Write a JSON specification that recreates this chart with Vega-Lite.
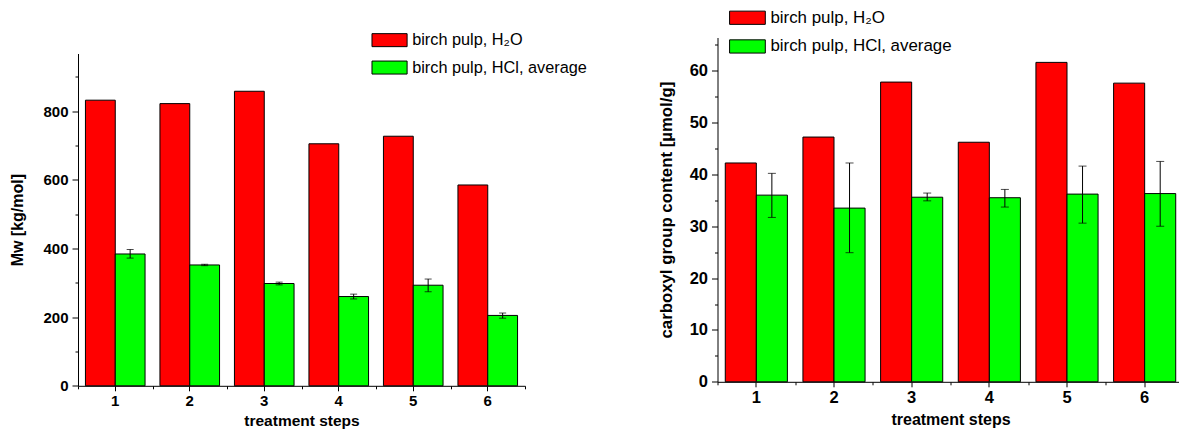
{
  "$schema": "https://vega.github.io/schema/vega-lite/v6.json",
  "background": "white",
  "padding": {"left": 9, "top": 8.5, "right": 0, "bottom": 0},
  "bounds": "flush",
  "spacing": 192.5,
  "config": {
    "view": {"stroke": null},
    "font": "Liberation Sans",
    "axis": {
      "grid": false,
      "domainColor": "black",
      "domainWidth": 1,
      "tickColor": "black",
      "tickWidth": 1,
      "labelFont": "Liberation Sans",
      "labelFontSize": 15,
      "labelFontWeight": "bold",
      "labelColor": "black",
      "titleFont": "Liberation Sans",
      "titleFontSize": 15,
      "titleFontWeight": "bold",
      "titleColor": "black"
    },
    "legend": {
      "labelFont": "Liberation Sans",
      "labelColor": "black",
      "labelLimit": 400,
      "padding": 0
    }
  },
  "resolve": {
    "scale": {"color": "independent", "x": "independent", "y": "independent", "xOffset": "independent"},
    "legend": {"color": "independent"}
  },
  "hconcat": [
    {
      "width": 447,
      "height": 348.3,
      "data": {"values": [
        {"step": "1", "series": "birch pulp, H₂O", "value": 832, "lo": null, "hi": null},
        {"step": "1", "series": "birch pulp, HCl, average", "value": 384, "lo": 372, "hi": 397},
        {"step": "2", "series": "birch pulp, H₂O", "value": 822, "lo": null, "hi": null},
        {"step": "2", "series": "birch pulp, HCl, average", "value": 352, "lo": 350, "hi": 354},
        {"step": "3", "series": "birch pulp, H₂O", "value": 858, "lo": null, "hi": null},
        {"step": "3", "series": "birch pulp, HCl, average", "value": 298, "lo": 294, "hi": 302},
        {"step": "4", "series": "birch pulp, H₂O", "value": 705, "lo": null, "hi": null},
        {"step": "4", "series": "birch pulp, HCl, average", "value": 260, "lo": 253, "hi": 267},
        {"step": "5", "series": "birch pulp, H₂O", "value": 727, "lo": null, "hi": null},
        {"step": "5", "series": "birch pulp, HCl, average", "value": 293, "lo": 274, "hi": 311},
        {"step": "6", "series": "birch pulp, H₂O", "value": 585, "lo": null, "hi": null},
        {"step": "6", "series": "birch pulp, HCl, average", "value": 205, "lo": 197, "hi": 212}
      ]},
      "layer": [
        {
          "mark": {"type": "bar", "stroke": "black", "strokeWidth": 1},
          "encoding": {
            "x": {"field": "step", "type": "nominal", "scale": {"paddingInner": 0, "paddingOuter": 0},
                  "axis": {"title": "treatment steps", "labelAngle": 0, "tickSize": 5, "labelPadding": 3, "titlePadding": 5, "titleFontSize": 15.5}},
            "xOffset": {"field": "series", "type": "nominal",
                        "scale": {"domain": ["birch pulp, H₂O", "birch pulp, HCl, average"], "paddingInner": 0, "paddingOuter": 0.25}},
            "y": {"field": "value", "type": "quantitative",
                  "scale": {"domain": [0, 968], "nice": false, "zero": true, "range": [348.3, 16]},
                  "axis": {"values": [0, 200, 400, 600, 800], "title": "Mw [kg/mol]", "tickSize": 6, "labelPadding": 4, "titlePadding": 17.5, "titleFontSize": 16}},
            "color": {"field": "series", "type": "nominal",
                      "scale": {"domain": ["birch pulp, H₂O", "birch pulp, HCl, average"], "range": ["#ff0000", "#00ff00"]},
                      "legend": {"title": null, "orient": "none", "legendX": 303.4, "legendY": -5.5, "direction": "vertical",
                                 "symbolType": "M-2.7,-1H2.7V1H-2.7Z", "symbolSize": 169, "symbolStrokeColor": "black",
                                 "symbolStrokeWidth": 1, "symbolOpacity": 1, "labelOffset": 14.5, "rowPadding": 9.4, "labelFontSize": 16.3}}
          }
        },
        {
          "transform": [{"filter": "datum.lo != null"}],
          "mark": {"type": "rule", "color": "black", "strokeWidth": 1},
          "encoding": {
            "x": {"field": "step", "type": "nominal",
                  "axis": {"orient": "bottom", "tickBand": "extent", "labels": false, "domain": false, "title": null, "tickSize": 3}},
            "xOffset": {"field": "series", "type": "nominal"},
            "y": {"field": "lo", "type": "quantitative",
                  "axis": {"orient": "left", "values": [100, 300, 500, 700, 900], "labels": false, "domain": false, "title": null, "tickSize": 3}},
            "y2": {"field": "hi"}
          }
        },
        {
          "transform": [{"filter": "datum.lo != null"}],
          "mark": {"type": "tick", "orient": "horizontal", "size": 7, "thickness": 1, "color": "black"},
          "encoding": {
            "x": {"field": "step", "type": "nominal", "axis": null},
            "xOffset": {"field": "series", "type": "nominal"},
            "y": {"field": "lo", "type": "quantitative", "axis": null}
          }
        },
        {
          "transform": [{"filter": "datum.lo != null"}],
          "mark": {"type": "tick", "orient": "horizontal", "size": 7, "thickness": 1, "color": "black"},
          "encoding": {
            "x": {"field": "step", "type": "nominal", "axis": null},
            "xOffset": {"field": "series", "type": "nominal"},
            "y": {"field": "hi", "type": "quantitative", "axis": null}
          }
        }
      ],
      "resolve": {"axis": {"x": "independent", "y": "independent"}}
    },
    {
      "width": 466,
      "height": 344.3,
      "data": {"values": [
        {"step": "1", "series": "birch pulp, H₂O", "value": 42.2, "lo": null, "hi": null},
        {"step": "1", "series": "birch pulp, HCl, average", "value": 36.0, "lo": 31.7, "hi": 40.2},
        {"step": "2", "series": "birch pulp, H₂O", "value": 47.2, "lo": null, "hi": null},
        {"step": "2", "series": "birch pulp, HCl, average", "value": 33.5, "lo": 24.9, "hi": 42.2},
        {"step": "3", "series": "birch pulp, H₂O", "value": 57.8, "lo": null, "hi": null},
        {"step": "3", "series": "birch pulp, HCl, average", "value": 35.6, "lo": 34.9, "hi": 36.4},
        {"step": "4", "series": "birch pulp, H₂O", "value": 46.2, "lo": null, "hi": null},
        {"step": "4", "series": "birch pulp, HCl, average", "value": 35.5, "lo": 33.7, "hi": 37.1},
        {"step": "5", "series": "birch pulp, H₂O", "value": 61.6, "lo": null, "hi": null},
        {"step": "5", "series": "birch pulp, HCl, average", "value": 36.2, "lo": 30.6, "hi": 41.6},
        {"step": "6", "series": "birch pulp, H₂O", "value": 57.6, "lo": null, "hi": null},
        {"step": "6", "series": "birch pulp, HCl, average", "value": 36.3, "lo": 30.0, "hi": 42.5}
      ]},
      "layer": [
        {
          "mark": {"type": "bar", "stroke": "black", "strokeWidth": 1},
          "encoding": {
            "x": {"field": "step", "type": "nominal", "scale": {"paddingInner": 0, "paddingOuter": 0},
                  "axis": {"title": "treatment steps", "labelAngle": 0, "tickSize": 5, "labelPadding": 3, "titlePadding": 5, "labelFontSize": 16.5, "titleFontSize": 16}},
            "xOffset": {"field": "series", "type": "nominal",
                        "scale": {"domain": ["birch pulp, H₂O", "birch pulp, HCl, average"], "paddingInner": 0, "paddingOuter": 0.25}},
            "y": {"field": "value", "type": "quantitative",
                  "scale": {"domain": [0, 66.4], "nice": false, "zero": true},
                  "axis": {"values": [0, 10, 20, 30, 40, 50, 60], "title": "carboxyl group content [µmol/g]", "tickSize": 6, "labelPadding": 4, "titlePadding": 13.5, "labelFontSize": 16.5, "titleFontSize": 16.8}},
            "color": {"field": "series", "type": "nominal",
                      "scale": {"domain": ["birch pulp, H₂O", "birch pulp, HCl, average"], "range": ["#ff0000", "#00ff00"]},
                      "legend": {"title": null, "orient": "none", "legendX": 21.5, "legendY": -28.2, "direction": "vertical",
                                 "symbolType": "M-2.7,-1H2.7V1H-2.7Z", "symbolSize": 175, "symbolStrokeColor": "black",
                                 "symbolStrokeWidth": 1, "symbolOpacity": 1, "labelOffset": 14.5, "rowPadding": 9.7, "labelFontSize": 16.9}}
          }
        },
        {
          "transform": [{"filter": "datum.lo != null"}],
          "mark": {"type": "rule", "color": "black", "strokeWidth": 1},
          "encoding": {
            "x": {"field": "step", "type": "nominal",
                  "axis": {"orient": "bottom", "tickBand": "extent", "labels": false, "domain": false, "title": null, "tickSize": 3}},
            "xOffset": {"field": "series", "type": "nominal"},
            "y": {"field": "lo", "type": "quantitative",
                  "axis": {"orient": "left", "values": [5, 15, 25, 35, 45, 55, 65], "labels": false, "domain": false, "title": null, "tickSize": 3}},
            "y2": {"field": "hi"}
          }
        },
        {
          "transform": [{"filter": "datum.lo != null"}],
          "mark": {"type": "tick", "orient": "horizontal", "size": 8, "thickness": 1, "color": "black"},
          "encoding": {
            "x": {"field": "step", "type": "nominal", "axis": null},
            "xOffset": {"field": "series", "type": "nominal"},
            "y": {"field": "lo", "type": "quantitative", "axis": null}
          }
        },
        {
          "transform": [{"filter": "datum.lo != null"}],
          "mark": {"type": "tick", "orient": "horizontal", "size": 8, "thickness": 1, "color": "black"},
          "encoding": {
            "x": {"field": "step", "type": "nominal", "axis": null},
            "xOffset": {"field": "series", "type": "nominal"},
            "y": {"field": "hi", "type": "quantitative", "axis": null}
          }
        }
      ],
      "resolve": {"axis": {"x": "independent", "y": "independent"}}
    }
  ]
}
